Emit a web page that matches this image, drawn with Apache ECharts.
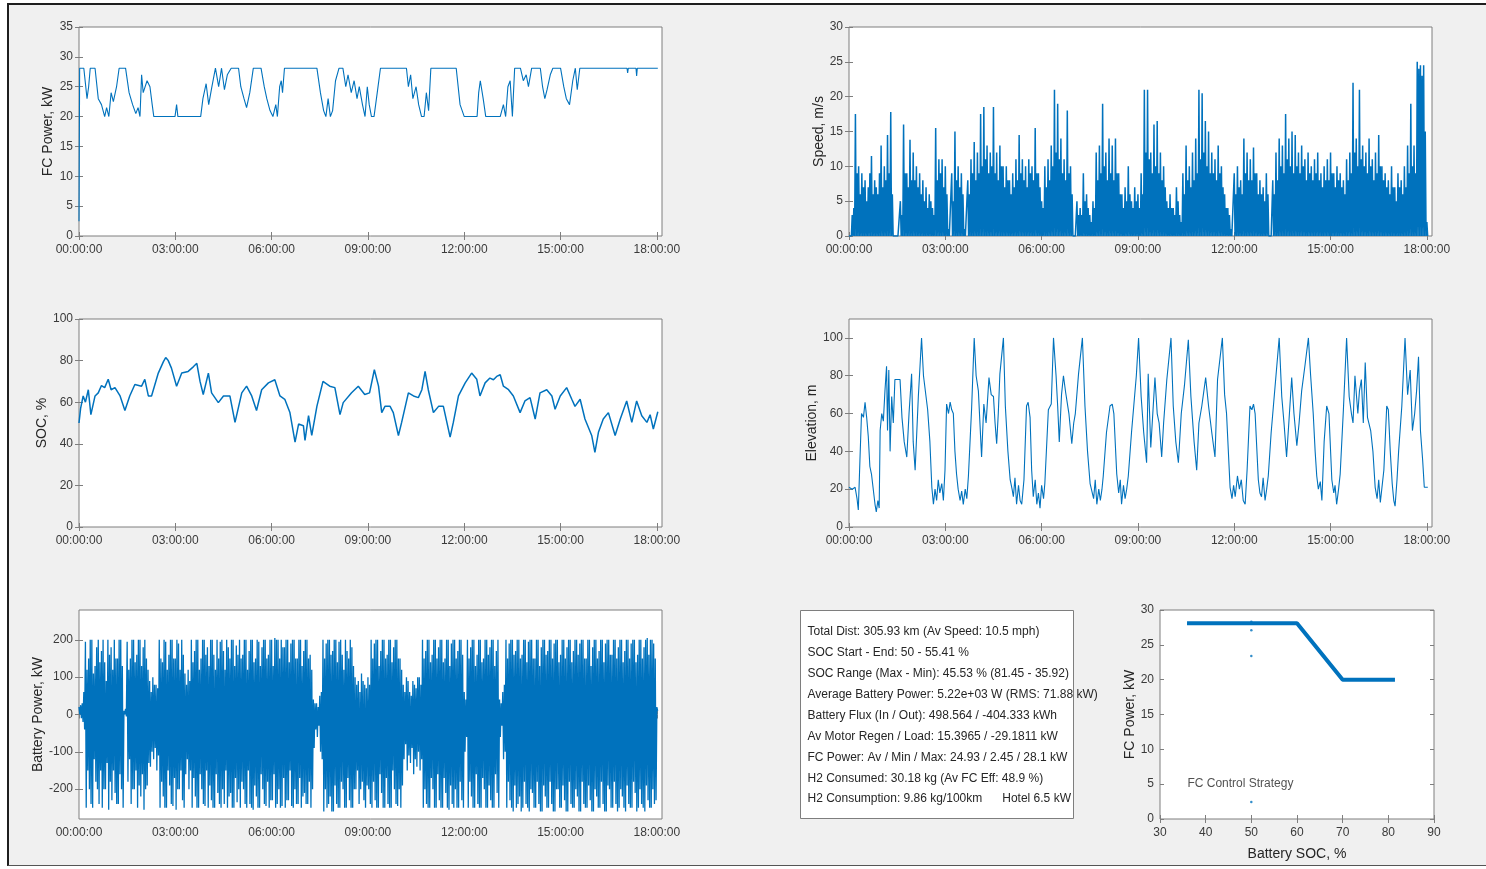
<!DOCTYPE html>
<html>
<head>
<meta charset="utf-8">
<title>FC drive cycle summary</title>
<script src="https://cdn.jsdelivr.net/npm/echarts@6.0.0/dist/echarts.min.js"></script>
<style>
    html, body { margin: 0; padding: 0; background: #fff; }
    #frame {
        position: absolute; left: 7px; top: 3px; width: 1479px; height: 863px;
        background: #f0f0f0; border-left: 2px solid #1e1e1e; border-top: 2px solid #1e1e1e;
        border-bottom: 1px solid #555; box-sizing: border-box;
    }
    #chart { position: absolute; left: 0; top: 0; width: 1486px; height: 869px; }
</style>
</head>
<body>
<div id="frame"></div>
<div id="chart"></div>
<script>
"use strict";

// ---- data (time in hours) ----

// FC power, kW : [hour, kW]
var FC_POWER = [
    [0,2.45],[0.02,28.1],[0.15,28.1],[0.25,23],[0.3,25],[0.35,28.1],[0.5,28.1],[0.6,23],[0.7,22],[0.8,20],
    [0.86,21.5],[0.93,20],[1.0,24],[1.07,22.5],[1.17,25],[1.25,28.1],[1.45,28.1],[1.56,24],[1.67,22],[1.77,20.5],
    [1.84,21.5],[1.9,20],[1.95,27],[2.0,24],[2.12,26],[2.21,25],[2.28,22],[2.33,20],[2.99,20],[3.04,22],
    [3.08,20],[3.79,20],[3.86,23],[3.96,25.5],[4.04,22],[4.14,25],[4.25,28.1],[4.35,25],[4.44,28.1],[4.53,24.5],
    [4.62,27],[4.74,28.1],[4.97,28.1],[5.04,25],[5.14,23],[5.22,21.5],[5.32,24],[5.43,28.1],[5.67,28.1],[5.77,25],
    [5.85,23],[5.95,21],[6.04,20],[6.13,22],[6.18,20],[6.25,25],[6.3,26],[6.34,24],[6.4,28.1],[7.41,28.1],
    [7.52,24],[7.62,21],[7.69,20],[7.76,23],[7.83,20],[7.9,21],[7.99,26],[8.1,28.1],[8.22,28.1],[8.31,25],
    [8.38,27],[8.48,24],[8.57,26],[8.66,23],[8.73,25],[8.83,22],[8.91,20],[8.98,25],[9.04,22],[9.11,20],
    [9.19,20],[9.29,24],[9.39,28.1],[10.2,28.1],[10.26,25],[10.33,27],[10.4,23],[10.5,25],[10.58,22],[10.67,20],
    [10.75,20],[10.82,24],[10.89,21],[10.96,28.1],[11.75,28.1],[11.87,22],[12.0,20],[12.4,20],[12.45,24],[12.5,26],
    [12.59,23],[12.67,20],[13.12,20],[13.22,22],[13.29,20],[13.36,25],[13.43,26],[13.5,20],[13.57,28.1],[13.75,28.1],
    [13.84,26],[13.93,27],[14.0,25],[14.1,28.1],[14.37,28.1],[14.44,25],[14.51,23],[14.58,24.5],[14.68,27],[14.76,28.1],
    [15.0,28.1],[15.1,25],[15.18,23],[15.28,22],[15.38,26],[15.46,28.1],[15.52,24.5],[15.6,28.1],[17.07,28.1],[17.09,27.3],
    [17.11,28.1],[17.35,28.1],[17.37,26.8],[17.39,28.1],[18.03,28.1]
];

// vehicle speed, m/s : peak in every 0.05 h slot (one row per hour), trough is a stop
var SPEED_STEP_H = 0.05;
var SPEED_TROUGH = 0;
var SPEED_PEAK = [
    0,0,3,4,17.5,9,10,6,9,7,8,5,7,9,11.5,6,8,7,6,9,
    13,7,10,8,14.5,9,17.8,6,0,0,0,0,5,3,16,9,9,7,13.8,8,
    12,8,10,7,9,6,8,5,7,4,6,5,4,3,15.5,8,11,9,11,7,
    10,6,1,0,9,5,15,8,10,7,9,6,1,0,8,6,11,9,13.5,8,
    12,9,17.5,10,18.5,11,13,9,12,10,18.5,9,12,8,13,10,10,7,10,8,
    8,6,9,7,11,8,14.5,9,11,8,10,7,11,9,10,8,15.5,9,9,7,
    5,4,10,7,11,8,13,10,21,12,19,11,14,9,11,8,18,9,10,6,
    0,0,5,3,4,3,9,5,6,4,3,2,5,4,12,8,13,9,19,10,
    12,8,14,9,13,8,14,9,9,6,6,4,7,5,10,6,5,4,7,5,
    6,4,9,6,21,12,21,11,12,9,16,10,16.5,9,12,8,10,7,5,4,
    6,4,4,3,7,5,3,2,9,6,13,8,10,7,12,8,14,9,21,11,
    20.5,12,16.5,10,15,9,12,9,11,8,13,9,10,7,6,4,4,3,1,0,
    9,6,10,7,8,6,14,9,12,8,11,8,12.7,9,9,6,8,6,7,5,
    9,6,0,0,8,6,12,8,14,10,13,9,17.5,11,14,10,15,9,14.5,10,
    12,9,13,10,11,8,12,9,10,8,11,9,12,8,9,7,10,8,11,8,
    12,9,9,7,10,8,9,7,8,6,11,8,12,9,22,12,14,10,21,11,
    13,10,12,9,14,10,11,8,12,9,14.5,10,10,8,9,7,8,6,10,7,
    7,5,9,7,8,6,10,7,13,9,19,10,13,9,25,24,24.5,23,24.5,15,
    2
];

// battery SOC, % : [hour, %]
var SOC = [
    [0,50],[0.05,57],[0.13,63],[0.2,60],[0.29,66],[0.37,54],[0.5,63],[0.6,64.5],[0.7,68],[0.8,67],
    [0.91,71],[1.0,66],[1.12,67],[1.28,63],[1.43,56],[1.58,63],[1.74,68.5],[1.95,67.7],[2.05,71],[2.16,63],
    [2.26,63],[2.47,74],[2.63,79.5],[2.7,81.45],[2.78,80],[2.88,76.4],[3.04,67.7],[3.2,74],[3.4,74.8],[3.56,77],
    [3.67,78.7],[3.77,70],[3.87,63.7],[4.03,74],[4.13,64.5],[4.34,59.8],[4.5,63],[4.7,63],[4.86,50.3],[5.07,64.5],
    [5.22,67.7],[5.38,63],[5.53,56],[5.69,66],[5.9,69.3],[6.1,70.8],[6.26,63],[6.41,61.4],[6.57,55],[6.73,40.8],
    [6.84,49.5],[6.99,48.7],[7.04,41.6],[7.15,53.5],[7.25,44],[7.41,58],[7.6,70],[7.81,67.7],[7.97,67],[8.13,54],
    [8.23,59.8],[8.49,64.5],[8.7,67.7],[8.9,63.7],[9.05,64.5],[9.2,75.6],[9.33,67.7],[9.43,55],[9.53,58],[9.69,58],
    [9.79,55],[9.95,44],[10.05,50.3],[10.26,64.5],[10.42,63],[10.57,62.2],[10.68,66],[10.78,74.8],[10.88,66],[11.04,55],
    [11.2,58],[11.35,58],[11.56,43.2],[11.66,50.3],[11.82,63],[12.03,69.3],[12.23,74],[12.39,71],[12.49,63],[12.65,69.3],
    [12.8,71.6],[12.91,70.8],[13.01,72.4],[13.12,73.2],[13.22,67.7],[13.38,66],[13.53,63],[13.74,55],[13.89,60.6],[14.05,62.2],
    [14.21,51.9],[14.36,64.5],[14.57,66],[14.73,63],[14.83,56.6],[14.99,63],[15.19,67],[15.35,61.4],[15.45,58],[15.61,61.4],
    [15.76,51.9],[15.97,44],[16.07,35.92],[16.18,45.5],[16.33,51.9],[16.49,55],[16.7,44],[16.86,51.9],[17.06,60.6],[17.22,50.3],
    [17.37,60.6],[17.53,53.5],[17.69,50.3],[17.79,54],[17.89,47.1],[18.03,55.41]
];

// route elevation, m : [hour, m]
var ELEVATION = [
    [0,21],[0.1,20],[0.19,21],[0.25,15],[0.29,9],[0.34,35],[0.39,60],[0.45,58],[0.5,66],[0.55,58],
    [0.6,48],[0.65,32],[0.7,28],[0.76,27],[0.81,12],[0.85,8],[0.9,14],[0.94,10],[0.97,51],[1.02,60],
    [1.07,56],[1.12,72],[1.17,85],[1.2,51],[1.24,83],[1.28,40],[1.33,69],[1.38,55],[1.43,78],[1.59,78],
    [1.65,58],[1.72,45],[1.8,37],[1.87,60],[1.95,81],[2.0,45],[2.06,30],[2.16,69],[2.26,100],[2.32,80],
    [2.37,79],[2.45,62],[2.52,45],[2.58,21],[2.63,12],[2.68,20],[2.73,14],[2.78,25],[2.83,18],[2.89,23],
    [2.94,14],[2.99,30],[3.04,65],[3.1,60],[3.15,66],[3.2,62],[3.25,60],[3.3,40],[3.35,28],[3.4,20],
    [3.46,14],[3.51,19],[3.56,12],[3.62,20],[3.67,15],[3.72,27],[3.82,63],[3.9,100],[3.96,80],[4.03,72],
    [4.13,37],[4.2,65],[4.27,55],[4.36,79],[4.43,70],[4.5,69],[4.55,55],[4.6,44],[4.65,60],[4.7,81],
    [4.81,100],[4.87,64],[4.95,40],[5.02,25],[5.08,20],[5.12,16],[5.17,26],[5.22,12],[5.28,22],[5.33,14],
    [5.38,12],[5.45,25],[5.53,64],[5.58,66],[5.64,58],[5.69,30],[5.74,16],[5.8,25],[5.85,12],[5.9,18],
    [5.95,10],[6.0,22],[6.06,15],[6.1,23],[6.21,62],[6.3,65],[6.37,100],[6.45,80],[6.5,64],[6.55,45],
    [6.62,70],[6.68,80],[6.75,71],[6.85,60],[6.94,44],[7.0,55],[7.05,60],[7.15,81],[7.27,100],[7.35,64],
    [7.43,40],[7.51,23],[7.56,22],[7.62,15],[7.67,25],[7.72,12],[7.78,20],[7.83,14],[7.88,20],[7.92,27],
    [8.02,50],[8.13,64],[8.2,65],[8.25,60],[8.34,28],[8.4,18],[8.45,25],[8.49,12],[8.55,22],[8.6,15],
    [8.65,20],[8.7,27],[8.8,50],[8.86,62],[8.95,80],[9.02,100],[9.1,69],[9.18,50],[9.27,34],[9.32,81],
    [9.4,42],[9.53,79],[9.6,60],[9.66,55],[9.74,37],[9.8,55],[9.9,78],[10.03,100],[10.1,64],[10.18,45],
    [10.26,34],[10.35,60],[10.45,75],[10.57,99],[10.65,69],[10.75,45],[10.83,30],[10.9,55],[10.99,64],[11.11,79],
    [11.2,64],[11.3,50],[11.4,37],[11.48,78],[11.63,100],[11.7,70],[11.76,60],[11.87,21],[11.93,15],[11.98,22],
    [12.03,16],[12.1,27],[12.16,20],[12.22,25],[12.28,14],[12.34,12],[12.4,30],[12.49,64],[12.55,62],[12.6,65],
    [12.65,60],[12.75,25],[12.8,18],[12.85,16],[12.9,26],[12.96,14],[13.01,20],[13.06,27],[13.15,50],[13.22,64],
    [13.3,80],[13.4,100],[13.48,69],[13.55,55],[13.63,37],[13.7,55],[13.79,79],[13.86,60],[13.95,43],[14.02,55],
    [14.1,72],[14.2,85],[14.31,100],[14.38,80],[14.46,60],[14.52,40],[14.57,27],[14.62,20],[14.68,24],[14.73,14],
    [14.8,45],[14.88,64],[14.95,60],[15.04,25],[15.1,18],[15.14,22],[15.19,12],[15.25,20],[15.3,28],[15.4,62],
    [15.5,100],[15.58,69],[15.65,60],[15.7,55],[15.76,80],[15.85,60],[15.9,72],[15.96,78],[16.02,55],[16.08,87],
    [16.15,58],[16.25,51],[16.32,40],[16.39,21],[16.45,15],[16.5,25],[16.55,13],[16.6,12],[16.66,30],[16.75,64],
    [16.8,62],[16.86,40],[16.92,23],[16.97,14],[17.01,11],[17.07,25],[17.12,40],[17.22,64],[17.32,100],[17.4,70],
    [17.48,83],[17.55,51],[17.62,60],[17.68,72],[17.74,90],[17.8,51],[17.87,35],[17.92,21],[18.03,21]
];

// battery power, kW : high and low in every 0.05 h slot (one row per hour)
var BATT_STEP_H = 0.05;
var BATT_HIGH = [
    20,25,30,60,195,120,150,200,200,110,130,180,200,140,170,200,140,90,200,160,
    180,120,200,150,150,200,200,130,10,15,195,120,150,200,200,140,160,200,200,130,
    180,200,150,120,90,60,100,80,80,70,200,150,140,200,195,120,160,200,200,150,
    150,200,190,120,200,160,110,80,120,90,200,140,170,200,200,120,150,200,200,160,
    180,130,200,200,160,120,200,150,195,200,170,120,200,180,150,200,200,130,185,160,
    200,150,160,200,200,120,170,200,200,140,150,200,195,130,180,200,200,150,160,200,
    200,130,205,200,200,150,200,180,180,200,200,140,190,200,200,150,150,200,200,130,
    170,200,200,150,160,120,40,30,30,20,50,60,200,150,190,200,200,160,170,200,
    200,140,195,200,160,120,200,170,150,200,180,130,100,80,90,60,110,90,80,70,
    100,80,200,150,190,200,200,130,170,200,200,150,160,200,200,140,180,200,200,150,
    150,120,80,60,100,90,60,50,90,80,70,100,100,80,200,150,170,200,200,140,
    160,200,200,150,180,200,200,140,150,200,200,130,190,200,200,150,170,200,200,160,
    60,40,200,150,180,200,200,130,160,200,200,140,150,200,200,160,180,200,200,130,
    170,200,40,30,60,80,200,150,190,200,200,160,170,200,200,150,160,200,200,140,
    195,200,200,150,150,200,200,130,180,200,200,160,170,200,200,150,190,200,200,140,
    160,200,200,150,180,200,200,140,170,200,200,160,190,200,200,150,150,200,200,130,
    180,200,200,150,170,200,200,140,190,200,200,160,160,200,200,150,180,200,200,140,
    170,200,200,150,190,200,200,140,160,200,200,150,180,200,205,160,200,200,190,150,
    20
];
var BATT_LOW = [
    0,-10,-20,-40,-250,-150,-200,-240,-250,-120,-180,-200,-240,-150,-250,-200,-200,-130,-255,-180,
    -230,-150,-210,-240,-240,-160,-200,-250,0,-5,-180,-120,-240,-200,-200,-150,-250,-190,-220,-160,
    -255,-200,-190,-130,-140,-100,-120,-90,-150,-110,-250,-180,-220,-250,-250,-150,-190,-240,-245,-170,
    -255,-200,-200,-150,-230,-250,-160,-120,-200,-150,-250,-170,-220,-250,-250,-160,-200,-240,-245,-150,
    -250,-190,-230,-250,-250,-160,-210,-240,-250,-200,-240,-150,-250,-220,-210,-250,-250,-170,-235,-200,
    -250,-180,-200,-240,-250,-150,-240,-250,-255,-190,-220,-250,-250,-160,-200,-240,-245,-180,-250,-230,
    -230,-160,-250,-240,-200,-250,-245,-170,-250,-230,-230,-150,-245,-250,-200,-240,-240,-170,-250,-220,
    -210,-240,-240,-180,-250,-200,-90,-40,-60,-30,-100,-120,-260,-200,-250,-240,-220,-260,-260,-190,
    -240,-250,-250,-180,-200,-250,-250,-170,-230,-250,-250,-200,-200,-150,-240,-200,-180,-230,-250,-190,
    -200,-240,-250,-180,-230,-250,-250,-160,-210,-250,-250,-170,-240,-250,-250,-150,-200,-240,-245,-200,
    -250,-190,-120,-80,-150,-110,-130,-90,-160,-120,-140,-100,-150,-120,-250,-200,-240,-250,-250,-170,
    -200,-250,-250,-160,-230,-250,-250,-170,-210,-250,-255,-190,-240,-250,-200,-250,-250,-180,-230,-250,
    -100,-60,-250,-180,-220,-250,-250,-160,-240,-250,-250,-170,-200,-250,-250,-190,-230,-250,-250,-160,
    -210,-250,-60,-30,-120,-100,-250,-180,-230,-250,-260,-190,-250,-240,-220,-260,-250,-180,-240,-250,
    -260,-200,-210,-250,-250,-180,-240,-260,-260,-190,-220,-250,-250,-180,-240,-260,-260,-200,-200,-250,
    -250,-190,-230,-260,-260,-180,-240,-250,-250,-200,-220,-260,-260,-180,-240,-250,-250,-190,-230,-260,
    -260,-200,-220,-250,-250,-180,-240,-260,-260,-190,-200,-250,-250,-180,-240,-260,-250,-200,-220,-250,
    -260,-190,-240,-250,-250,-180,-210,-260,-250,-200,-240,-250,-260,-190,-230,-250,-250,-200,-240,-230,
    10
];

// FC control strategy (battery SOC %, FC kW)
var STRATEGY_SOC = [35.92, 60, 70, 81.45];
var STRATEGY_FC = [28.1, 28.1, 20, 20];
var STRATEGY_OUTLIERS = [[50, 28.3], [50, 27.1], [50, 23.4], [50, 2.45]];

var TIME_TICKS = [0, 3, 6, 9, 12, 15, 18];
var TIME_MAX = 18.16;

var STATS_LINES = [
    'Total Dist: 305.93 km (Av Speed: 10.5 mph)',
    'SOC Start - End: 50 - 55.41 %',
    'SOC Range (Max - Min): 45.53 % (81.45 - 35.92)',
    'Average Battery Power: 5.22e+03 W (RMS: 71.88 kW)',
    'Battery Flux (In / Out): 498.564 / -404.333 kWh',
    'Av Motor Regen / Load: 15.3965 / -29.1811 kW',
    'FC Power: Av / Min / Max: 24.93 / 2.45 / 28.1 kW',
    'H2 Consumed: 30.18 kg (Av FC Eff: 48.9 %)',
    'H2 Consumption: 9.86 kg/100km      Hotel 6.5 kW'
];

// ---- styling ----
var FIG_FONT = '"Liberation Sans", Arial, Helvetica, sans-serif';
var BOX_COLOR = '#7e7e7e';
var LABEL_COLOR = '#3a3a3a';
var LINE_BLUE = '#0072BD';

var grids = [
    { left: 79, top: 27, width: 583, height: 209 },
    { left: 849, top: 27, width: 583, height: 209 },
    { left: 79, top: 319, width: 583, height: 208 },
    { left: 849, top: 319, width: 583, height: 208 },
    { left: 79, top: 610, width: 583, height: 209 },
    { left: 1160, top: 610, width: 274, height: 209 }
];
grids.forEach(function (g) {
    g.show = true;
    g.backgroundColor = '#ffffff';
    g.borderColor = BOX_COLOR;
    g.borderWidth = 1;
});

function timeLabel(v) {
    var h = Math.round(v);
    return (h < 10 ? '0' + h : '' + h) + ':00:00';
}

var xAxes = [];
var yAxes = [];

// MATLAB style box: ticks inside on all four sides
function addAxes(gi, xOpt, yOpt) {
    var tickLine = { color: BOX_COLOR };
    var nameStyle = { color: '#262626', fontSize: 14, fontFamily: FIG_FONT };
    xAxes.push({
        type: 'value', gridIndex: gi, position: 'bottom', min: xOpt.min, max: xOpt.max,
        axisLine: { show: false }, splitLine: { show: false },
        axisTick: { inside: true, length: 4, customValues: xOpt.ticks, lineStyle: tickLine },
        axisLabel: {
            customValues: xOpt.ticks, formatter: xOpt.fmt, color: LABEL_COLOR,
            fontSize: 12, fontFamily: FIG_FONT, margin: 8
        },
        name: xOpt.name || '', nameLocation: 'middle', nameGap: 28, nameTextStyle: nameStyle
    });
    xAxes.push({
        type: 'value', gridIndex: gi, position: 'top', min: xOpt.min, max: xOpt.max,
        axisLine: { show: false }, splitLine: { show: false }, axisLabel: { show: false },
        axisTick: { inside: true, length: 4, customValues: xOpt.ticks, lineStyle: tickLine }
    });
    yAxes.push({
        type: 'value', gridIndex: gi, position: 'left', min: yOpt.min, max: yOpt.max,
        axisLine: { show: false }, splitLine: { show: false },
        axisTick: { inside: true, length: 4, customValues: yOpt.ticks, lineStyle: tickLine },
        axisLabel: {
            customValues: yOpt.ticks, color: LABEL_COLOR,
            fontSize: 12, fontFamily: FIG_FONT, margin: 6
        },
        name: yOpt.name, nameLocation: 'middle', nameGap: yOpt.gap, nameRotate: 90,
        nameTextStyle: nameStyle
    });
    yAxes.push({
        type: 'value', gridIndex: gi, position: 'right', min: yOpt.min, max: yOpt.max,
        axisLine: { show: false }, splitLine: { show: false }, axisLabel: { show: false },
        axisTick: { inside: true, length: 4, customValues: yOpt.ticks, lineStyle: tickLine }
    });
}

var timeX = { min: 0, max: TIME_MAX, ticks: TIME_TICKS, fmt: timeLabel };
addAxes(0, timeX, { min: 0, max: 35, ticks: [0, 5, 10, 15, 20, 25, 30, 35], name: 'FC Power, kW', gap: 24 });
addAxes(1, timeX, { min: 0, max: 30, ticks: [0, 5, 10, 15, 20, 25, 30], name: 'Speed, m/s', gap: 23 });
addAxes(2, timeX, { min: 0, max: 100, ticks: [0, 20, 40, 60, 80, 100], name: 'SOC, %', gap: 29 });
addAxes(3, timeX, { min: 0, max: 110, ticks: [0, 20, 40, 60, 80, 100], name: 'Elevation, m', gap: 29 });
addAxes(4, timeX, { min: -280, max: 280, ticks: [-200, -100, 0, 100, 200], name: 'Battery Power, kW', gap: 33 });
addAxes(5, { min: 30, max: 90, ticks: [30, 40, 50, 60, 70, 80, 90], name: 'Battery SOC, %' },
           { min: 0, max: 30, ticks: [0, 5, 10, 15, 20, 25, 30], name: 'FC Power, kW', gap: 22 });

// dense signals: high then low inside each slot
function interleave(step, highs, lows) {
    var out = [];
    highs.forEach(function (v, i) {
        out.push([i * step, v]);
        out.push([i * step + step / 2, Array.isArray(lows) ? lows[i] : lows]);
    });
    return out;
}

function lineSeries(gi, data, width) {
    return {
        type: 'line', xAxisIndex: gi * 2, yAxisIndex: gi * 2, data: data,
        symbol: 'none', silent: true,
        lineStyle: { color: LINE_BLUE, width: width || 1, join: 'bevel' }
    };
}

var strategyLine = STRATEGY_SOC.map(function (s, i) { return [s, STRATEGY_FC[i]]; });

var series = [
    lineSeries(0, FC_POWER, 1.1),
    lineSeries(1, interleave(SPEED_STEP_H, SPEED_PEAK, SPEED_TROUGH), 1.5),
    lineSeries(2, SOC, 1.5),
    lineSeries(3, ELEVATION, 1.1),
    lineSeries(4, interleave(BATT_STEP_H, BATT_HIGH, BATT_LOW), 1.3),
    lineSeries(5, strategyLine, 4),
    {
        type: 'scatter', xAxisIndex: 10, yAxisIndex: 10, data: STRATEGY_OUTLIERS,
        symbolSize: 2.5, itemStyle: { color: LINE_BLUE }, silent: true
    },
    {
        type: 'scatter', xAxisIndex: 10, yAxisIndex: 10, data: [[36, 5]],
        symbolSize: 0, silent: true,
        label: {
            show: true, position: 'right', distance: 0, formatter: 'FC Control Strategy',
            color: '#262626', fontSize: 12, fontFamily: FIG_FONT
        }
    }
];

var chart = echarts.init(document.getElementById('chart'), null, { renderer: 'canvas' });
chart.setOption({
    animation: false,
    backgroundColor: 'transparent',
    grid: grids,
    xAxis: xAxes,
    yAxis: yAxes,
    series: series,
    graphic: [{
        type: 'group', left: 800, top: 610, z: 100,
        children: [
            {
                type: 'rect', shape: { x: 0, y: 0, width: 273, height: 208 },
                style: { fill: '#ffffff', stroke: BOX_COLOR, lineWidth: 1 }
            },
            {
                type: 'text', x: 7, y: 11,
                style: {
                    text: STATS_LINES.join('\n'), fill: '#262626',
                    font: '12px ' + FIG_FONT, lineHeight: 20.9
                }
            }
        ]
    }]
});
</script>
</body>
</html>
